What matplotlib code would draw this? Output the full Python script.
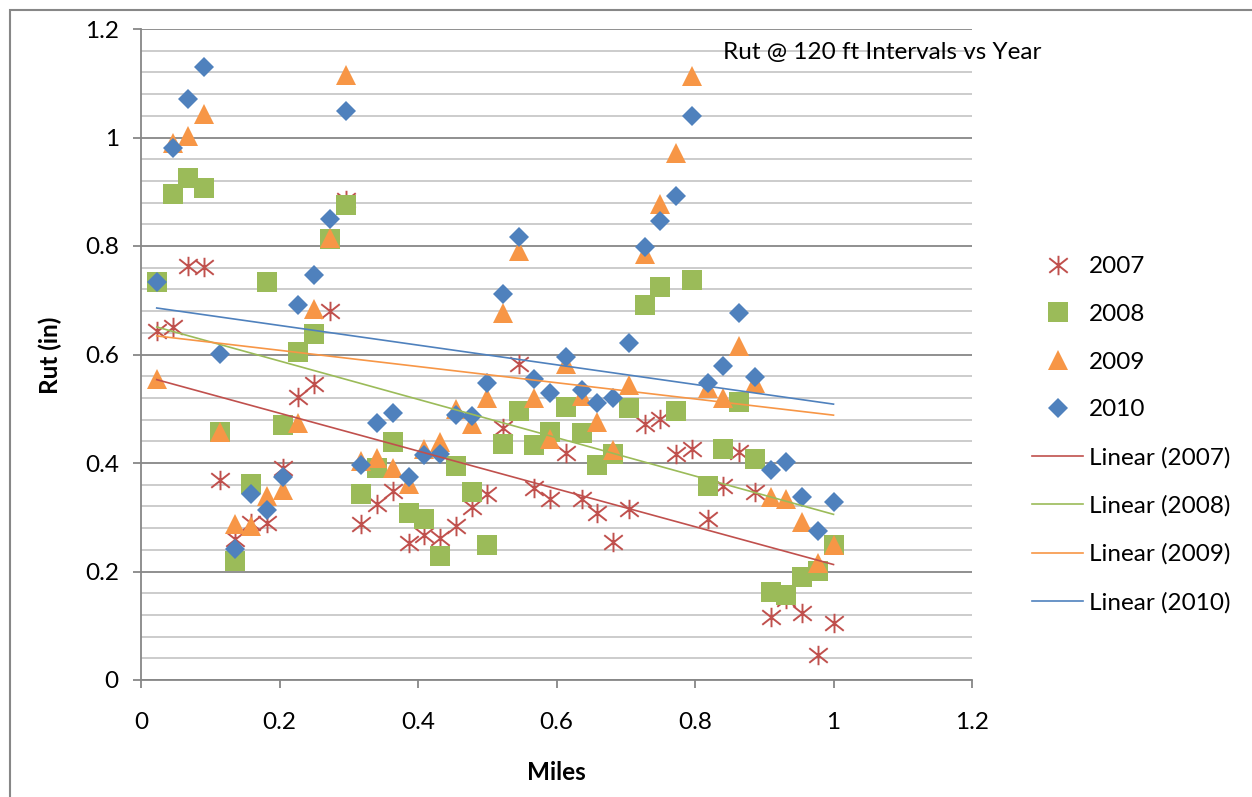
import numpy as np
import matplotlib.pyplot as plt
from matplotlib.path import Path
from matplotlib.patches import Rectangle
from matplotlib.ticker import MultipleLocator

plt.rcParams['font.family'] = ['Lato', 'DejaVu Sans']

# stations every 120 ft, in miles
miles = [0.0227, 0.0455, 0.0682, 0.0909, 0.1136, 0.1364, 0.1591, 0.1818, 0.2045, 0.2273,
         0.2500, 0.2727, 0.2955, 0.3182, 0.3409, 0.3636, 0.3864, 0.4091, 0.4318, 0.4545,
         0.4773, 0.5000, 0.5227, 0.5455, 0.5682, 0.5909, 0.6136, 0.6364, 0.6591, 0.6818,
         0.7045, 0.7273, 0.7500, 0.7727, 0.7955, 0.8182, 0.8409, 0.8636, 0.8864, 0.9091,
         0.9318, 0.9545, 0.9773, 1.0000]

rut_2007 = [0.643, 0.651, 0.763, 0.762, 0.369, 0.259, 0.290, 0.290, 0.391, 0.522,
            0.546, 0.680, 0.885, 0.288, 0.324, 0.349, 0.253, 0.268, 0.262, 0.284,
            0.319, 0.342, 0.464, 0.582, 0.354, 0.334, 0.419, 0.334, 0.307, 0.254,
            0.315, 0.472, 0.482, 0.417, 0.425, 0.297, 0.358, 0.421, 0.346, 0.116,
            0.150, 0.124, 0.047, 0.105]
rut_2008 = [0.733, 0.896, 0.926, 0.906, 0.458, 0.219, 0.361, 0.733, 0.470, 0.604,
            0.637, 0.813, 0.875, 0.343, 0.391, 0.438, 0.308, 0.296, 0.229, 0.395,
            0.346, 0.249, 0.435, 0.496, 0.434, 0.458, 0.504, 0.456, 0.396, 0.417,
            0.501, 0.692, 0.724, 0.496, 0.737, 0.358, 0.425, 0.513, 0.407, 0.163,
            0.157, 0.189, 0.201, 0.248]
rut_2009 = [0.554, 0.990, 1.002, 1.044, 0.458, 0.288, 0.284, 0.339, 0.351, 0.474,
            0.684, 0.815, 1.115, 0.404, 0.410, 0.391, 0.361, 0.426, 0.438, 0.500,
            0.472, 0.519, 0.677, 0.791, 0.519, 0.445, 0.582, 0.523, 0.476, 0.424,
            0.543, 0.785, 0.877, 0.972, 1.113, 0.539, 0.519, 0.616, 0.547, 0.338,
            0.334, 0.291, 0.216, 0.248]
rut_2010 = [0.733, 0.981, 1.071, 1.130, 0.601, 0.241, 0.342, 0.313, 0.374, 0.692,
            0.746, 0.850, 1.048, 0.396, 0.474, 0.492, 0.374, 0.414, 0.416, 0.489,
            0.486, 0.547, 0.712, 0.817, 0.555, 0.529, 0.596, 0.535, 0.510, 0.519,
            0.622, 0.799, 0.847, 0.892, 1.039, 0.548, 0.578, 0.677, 0.559, 0.388,
            0.401, 0.338, 0.274, 0.328]

years = ["2007", "2008", "2009", "2010"]
colors = ["#C0504D", "#9BBB59", "#F79646", "#4F81BD"]
fs = 17.5

# excel style asterisk: vertical bar plus an X
star = Path([(0, 1), (0, -1), (-0.95, 0.75), (0.95, -0.75), (-0.95, -0.75), (0.95, 0.75)],
            [Path.MOVETO, Path.LINETO, Path.MOVETO, Path.LINETO, Path.MOVETO, Path.LINETO])

fig = plt.figure(figsize=(12.52, 7.97), dpi=100)
ax = fig.add_axes([141/1252, 1-680/797, (972-141)/1252, (680-29)/797])

x = np.array(miles)
ax.plot(x, rut_2007, linestyle="none", marker=star, markersize=14, markerfacecolor="none",
        markeredgecolor=colors[0], markeredgewidth=1.4, label="2007", zorder=3)
ax.plot(x, rut_2008, linestyle="none", marker="s", markersize=14, color=colors[1],
        markeredgewidth=0, label="2008", zorder=4)
ax.plot(x, rut_2009, linestyle="none", marker="^", markersize=14, color=colors[2],
        markeredgewidth=0, label="2009", zorder=5)
ax.plot(x, rut_2010, linestyle="none", marker="D", markersize=10.5, color=colors[3],
        markeredgewidth=0, label="2010", zorder=6)

# linear trendlines
for yr, vals, c in zip(years, [rut_2007, rut_2008, rut_2009, rut_2010], colors):
    m, b = np.polyfit(x, vals, 1)
    xs = np.array([x[0], x[-1]])
    ax.plot(xs, m*xs + b, color=c, linewidth=1.2, label="Linear (" + yr + ")", zorder=7)

ax.set_xlim(0, 1.2)
ax.set_ylim(0, 1.2)
ax.yaxis.set_minor_locator(MultipleLocator(0.04))
ax.set_xticks([0, 0.2, 0.4, 0.6, 0.8, 1.0, 1.2], ["0", "0.2", "0.4", "0.6", "0.8", "1", "1.2"])
ax.set_yticks([0, 0.2, 0.4, 0.6, 0.8, 1.0, 1.2], ["0", "0.2", "0.4", "0.6", "0.8", "1", "1.2"])
ax.grid(axis="y", which="major", color="#878787", linewidth=1.3, zorder=0)
ax.grid(axis="y", which="minor", color="#BFBFBF", linewidth=1.1, zorder=0)
ax.set_axisbelow(True)
ax.tick_params(which="major", direction="out", length=6, width=1.3, color="#878787",
               labelsize=fs, labelcolor="black")
ax.tick_params(axis="y", pad=10)
ax.tick_params(axis="x", pad=17)
ax.tick_params(which="minor", length=0)
for s in ["top", "right"]:
    ax.spines[s].set_visible(False)
for s in ["left", "bottom"]:
    ax.spines[s].set_color("#878787")
    ax.spines[s].set_linewidth(1.3)

fig.text(50/1252, 1-355/797, "Rut (in)", rotation=90, ha="center", va="center",
         fontsize=fs, fontweight="bold")
fig.text(556/1252, 1-773/797, "Miles", ha="center", va="center", fontsize=fs, fontweight="bold")
fig.text(882/1252, 1-53/797, "Rut @ 120 ft Intervals vs Year", ha="center", va="center", fontsize=fs)

ax.legend(loc="upper left", bbox_to_anchor=(1032/1252, 1-256/797), bbox_transform=fig.transFigure,
          frameon=False, fontsize=fs, handlelength=2.1, handletextpad=0.25, labelspacing=1.1,
          borderpad=0, borderaxespad=0, numpoints=1)

# chart area border
fig.patches.append(Rectangle((10/1252, -0.5), 2, 1.5-10/797, transform=fig.transFigure,
                             fill=False, edgecolor="#878787", linewidth=1.5))

fig.savefig("out.png", dpi=100)
